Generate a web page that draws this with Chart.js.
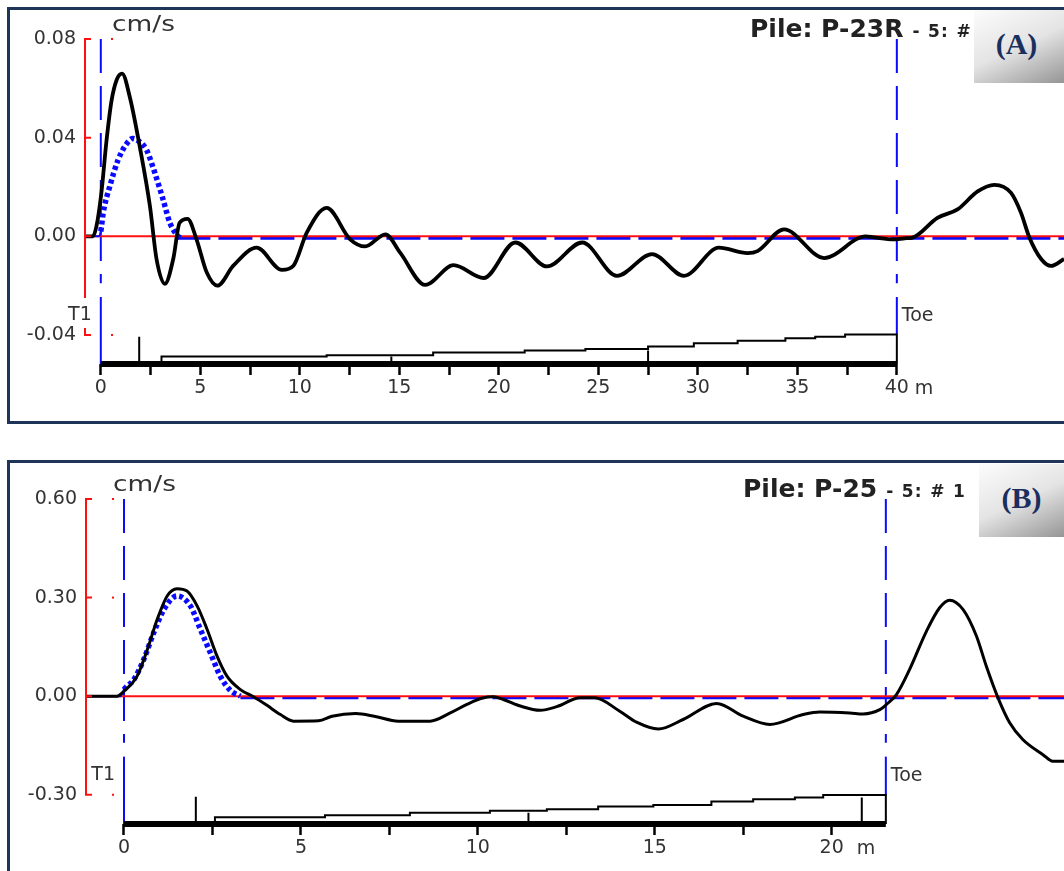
<!DOCTYPE html>
<html><head><meta charset="utf-8">
<script src="https://cdn.jsdelivr.net/npm/chart.js@4.4.1/dist/chart.umd.min.js"></script>
<style>
html,body{margin:0;padding:0;background:#fff;overflow:hidden;width:1064px;height:871px;position:relative;}
.panel{position:absolute;left:7px;border:3px solid #1e3559;box-sizing:border-box;}
#pa{top:7px;width:1080px;height:417px;}
#pb{top:460px;width:1080px;height:430px;}
canvas{position:absolute;left:0;}
#ca{top:0;}
#cb{top:440px;}
.tag{position:absolute;background:linear-gradient(155deg,#fcfcfc 0%,#e4e4e4 50%,#959595 100%);font-family:"Liberation Serif",serif;font-weight:bold;font-size:30px;color:#1a2f5e;display:flex;align-items:center;justify-content:center;box-sizing:border-box;}
#ta{left:974px;top:10px;width:90px;height:73px;padding:0 5px 6px 0;}
#tb{left:979px;top:464px;width:85px;height:73px;padding:0 0 5px 0;}
</style></head>
<body>
<div class="panel" id="pa"></div>
<div class="panel" id="pb"></div>
<canvas id="ca" width="1064" height="430"></canvas>
<canvas id="cb" width="1064" height="431"></canvas>
<div class="tag" id="ta">(A)</div>
<div class="tag" id="tb">(B)</div>
<script>
// ================= Panel A : Pile P-23R =================
const aTitle = "Pile: P-23R";
const aSuffix = "- 5: # 1";
const aPileLength = 40;
const aYTicks = [0.08, 0.04, 0, -0.04];
const aXTicks = [0, 2.5, 5, 7.5, 10, 12.5, 15, 17.5, 20, 22.5, 25, 27.5, 30, 32.5, 35, 37.5, 40];
// measured velocity (black)
const aMeasX = [-0.84, -0.4, -0.22, 0.03, 0.29, 0.54, 0.8, 1.07, 1.46, 1.96, 2.47, 2.8, 3.22, 3.64, 3.96, 4.36, 4.81, 5.32, 5.86, 6.66, 7.83, 9.1, 9.68, 10.35, 11.35, 12.53, 13.28, 14.3, 15.04, 16.3, 17.73, 19.24, 20.83, 22.42, 24.19, 25.94, 27.7, 29.3, 31.06, 32.5, 33.0, 34.33, 36.35, 38.44, 38.85, 39.85, 40.4, 40.79, 42.04, 43.05, 44.06, 44.9, 45.74, 46.24, 46.66, 47.25, 47.75, 48.4];
const aMeasV = [0, 0, 0.004, 0.0177, 0.039, 0.055, 0.0635, 0.066, 0.0564, 0.0363, 0.0122, -0.0092, -0.0193, -0.0092, 0.0055, 0.0071, -0.0012, -0.0146, -0.020, -0.0119, -0.0046, -0.0136, -0.0119, 0.0015, 0.0115, -0.0012, -0.0041, 0.0008, -0.0066, -0.0197, -0.0117, -0.0169, -0.0025, -0.0122, -0.0025, -0.016, -0.0072, -0.016, -0.0046, -0.0068, -0.006, 0.0028, -0.0088, 0, -0.0004, -0.0012, -0.0008, -0.0005, 0.0075, 0.0109, 0.0182, 0.0209, 0.0176, 0.0095, -0.0005, -0.0092, -0.012, -0.0092];
// input pulse (blue dotted)
const aPulseX = [-0.84, -0.1, 0.0, 0.12, 0.45, 0.87, 1.25, 1.62, 2.0, 2.3, 2.72, 3.13, 3.47, 3.8, 4.0];
const aPulseV = [0, 0, 0.002, 0.0095, 0.0202, 0.031, 0.037, 0.0397, 0.038, 0.035, 0.0256, 0.0149, 0.0055, 0.0008, -0.0008];
// computed baseline (blue dashed)
const aBaseX = [3.8, 48.4];
const aBaseV = [-0.0008, -0.0008];
// pile profile (relative units)
const aProfX = [3.05, 3.05, 11.35, 16.7, 21.3, 24.35, 27.5, 29.8, 32.0, 34.4, 35.9, 37.4, 38.8, 40, 40];
const aProfH = [0, 0.13, 0.25, 0.30, 0.39, 0.46, 0.51, 0.59, 0.70, 0.79, 0.87, 0.92, 1.0, 1.0, 0];
const aJointX = [1.93, 14.6, 27.5];
const aJointH = [0.92, 0.25, 0.46];

// ================= Panel B : Pile P-25 =================
const bTitle = "Pile: P-25";
const bSuffix = "- 5: # 1";
const bPileLength = 21.53;
const bYTicks = [0.6, 0.3, 0, -0.3];
const bXTicks = [0, 2.5, 5, 7.5, 10, 12.5, 15, 17.5, 20];
const bMeasX = [-1.1, -0.2, 0.0, 0.37, 0.66, 0.94, 1.22, 1.5, 1.78, 2.07, 2.35, 2.63, 2.91, 3.29, 3.66, 4.04, 4.42, 4.79, 5.5, 5.88, 6.55, 7.1, 7.75, 8.65, 9.22, 9.69, 10.16, 10.44, 10.72, 11.2, 11.76, 12.23, 12.89, 13.3, 14.0, 14.5, 15.1, 15.8, 16.75, 17.5, 18.25, 19.19, 19.66, 20.51, 20.89, 21.36, 21.55, 21.83, 22.2, 22.68, 23.05, 23.33, 23.71, 24.09, 24.37, 24.7, 25.03, 25.4, 25.97, 26.25, 26.57];
const bMeasV = [0, 0, 0.015, 0.061, 0.142, 0.234, 0.305, 0.327, 0.32, 0.274, 0.203, 0.122, 0.061, 0.020, -0.002, -0.028, -0.056, -0.076, -0.075, -0.061, -0.053, -0.062, -0.076, -0.076, -0.051, -0.025, -0.005, -0.002, -0.010, -0.030, -0.043, -0.032, -0.005, -0.005, -0.045, -0.08, -0.100, -0.071, -0.022, -0.061, -0.086, -0.056, -0.048, -0.051, -0.054, -0.041, -0.025, 0.005, 0.081, 0.198, 0.269, 0.292, 0.264, 0.183, 0.091, -0.005, -0.081, -0.132, -0.178, -0.198, -0.198];
const bPulseX = [-1.1, -0.1, 0.0, 0.28, 0.56, 0.84, 1.13, 1.5, 1.88, 2.16, 2.44, 2.72, 3.0, 3.29];
const bPulseV = [0, 0, 0.02, 0.051, 0.112, 0.193, 0.264, 0.305, 0.274, 0.203, 0.132, 0.061, 0.018, 0.0];
const bBaseX = [3.29, 26.57];
const bBaseV = [-0.005, -0.005];
const bProfX = [2.57, 2.57, 5.68, 8.08, 10.34, 11.95, 13.4, 14.96, 16.6, 17.78, 18.96, 19.76, 20.89, 21.53, 21.53];
const bProfH = [0, 0.13, 0.23, 0.30, 0.38, 0.45, 0.50, 0.59, 0.64, 0.76, 0.84, 0.90, 0.98, 0.98, 0];
const bJointX = [2.03, 11.43, 20.85];
const bJointH = [0.92, 0.38, 0.90];

// ================= drawing =================
const BLUE = '#0a0aff', RED = '#ff1010', TXT = '#333333';
const FONT = "'DejaVu Sans'";
const pts = (xs, ys) => xs.map((x, i) => ({x: x, y: ys[i]}));

function makeChart(id, c) {
  const joints = [];
  c.jointX.forEach((x, i) => { joints.push({x: x, y: 0}, {x: x, y: c.jointH[i]}, {x: x, y: null}); });
  const decor = {
    id: 'decor',
    beforeDatasetsDraw(chart) {
      const {ctx, chartArea: ca, scales} = chart;
      const x = scales.x, y = scales.y, y2 = scales.y2;
      const topY = y.getPixelForValue(c.yTicks[0]);
      const dashEndY = y.getPixelForValue(c.dashEnd);
      const solidY = y.getPixelForValue(c.solidStart);
      const toeTop = y2.getPixelForValue(Math.max.apply(null, c.profH));
      ctx.save();
      ctx.strokeStyle = BLUE; ctx.lineWidth = 2;
      [[0, ca.bottom], [c.L, toeTop]].forEach(([v, endY]) => {
        const px = x.getPixelForValue(v);
        ctx.setLineDash([34, 13]);
        ctx.beginPath(); ctx.moveTo(px, topY); ctx.lineTo(px, dashEndY); ctx.stroke();
        ctx.setLineDash([]);
        ctx.beginPath(); ctx.moveTo(px, solidY); ctx.lineTo(px, endY); ctx.stroke();
      });
      ctx.restore();
    },
    afterDraw(chart) {
      const {ctx, chartArea: ca, scales} = chart;
      const x = scales.x, y = scales.y;
      ctx.save();
      // red axis
      ctx.strokeStyle = RED; ctx.fillStyle = RED; ctx.lineWidth = 2; ctx.setLineDash([]);
      const ax = ca.left + 1;
      const yT = y.getPixelForValue(c.yTicks[0]);
      const yB = y.getPixelForValue(c.yTicks[c.yTicks.length - 1]);
      ctx.beginPath();
      if (c.gap) {
        ctx.moveTo(ax, yT); ctx.lineTo(ax, y.getPixelForValue(c.gap[0]));
        ctx.moveTo(ax, y.getPixelForValue(c.gap[1])); ctx.lineTo(ax, yB);
      } else { ctx.moveTo(ax, yT); ctx.lineTo(ax, yB); }
      c.yTicks.forEach(v => { const py = y.getPixelForValue(v); ctx.moveTo(ax - 1, py); ctx.lineTo(ax + 6, py); });
      ctx.stroke();
      c.dots.forEach(v => { const py = y.getPixelForValue(v); ctx.fillRect(ax + 26, py - 1, 2, 2); });
      // texts
      ctx.fillStyle = TXT; ctx.textBaseline = 'alphabetic';
      ctx.save();
      ctx.translate(ca.left + 28, ca.top - 8);
      ctx.scale(1.2, 1);
      ctx.font = "22px " + FONT; ctx.textAlign = 'left';
      ctx.fillText('cm/s', 0, 0);
      ctx.restore();
      ctx.fillStyle = '#222';
      ctx.font = "bold 25px " + FONT; ctx.textAlign = 'left';
      ctx.fillText(c.title, c.titleX, ca.top - 2);
      const w = ctx.measureText(c.title).width;
      ctx.font = "bold 17px " + FONT;
      try { ctx.letterSpacing = '1.3px'; } catch (e) {}
      ctx.fillText(c.suffix, c.titleX + w + 9, ca.top - 2);
      try { ctx.letterSpacing = '0px'; } catch (e) {}
      ctx.fillStyle = TXT;
      ctx.font = "19px " + FONT;
      ctx.textAlign = 'right';
      ctx.fillText('T1', x.getPixelForValue(0) - 9, ca.bottom - 44);
      ctx.textAlign = 'left';
      ctx.fillText('Toe', x.getPixelForValue(c.L) + 5, ca.bottom - 43);
      ctx.font = "19px " + FONT;
      ctx.fillText('m', x.getPixelForValue(c.xTicks[c.xTicks.length - 1]) + c.mOff, ca.bottom + 30);
      ctx.restore();
    }
  };
  return new Chart(document.getElementById(id), {
    type: 'line',
    data: {
      datasets: [
        {data: pts(c.measX, c.measV), borderColor: '#000', borderWidth: c.measW, cubicInterpolationMode: 'monotone', pointRadius: 0},
        {data: pts(c.pulseX, c.pulseV), borderColor: BLUE, borderWidth: 5.5, borderDash: [4, 3], cubicInterpolationMode: 'monotone', pointRadius: 0,
          segment: {borderDash: s => s.p0.parsed.x < -0.05 ? [] : [4, 3], borderWidth: s => s.p0.parsed.x < -0.05 ? 2 : 5.5}},
        {data: [{x: c.xMin, y: 0}, {x: c.xMax, y: 0}], borderColor: RED, borderWidth: 2, pointRadius: 0},
        {data: pts(c.baseX, c.baseV), borderColor: BLUE, borderWidth: 3, borderDash: [34, 8], pointRadius: 0},
        {data: pts(c.profX, c.profH), yAxisID: 'y2', borderColor: '#000', borderWidth: 2, stepped: 'after', pointRadius: 0, clip: false},
        {data: joints, yAxisID: 'y2', borderColor: '#000', borderWidth: 2, pointRadius: 0, spanGaps: false, clip: false},
        {data: [{x: 0, y: 0}, {x: c.L, y: 0}], yAxisID: 'y2', borderColor: '#000', borderWidth: 6, pointRadius: 0, clip: false}
      ]
    },
    options: {
      responsive: false, animation: false, events: [],
      layout: {padding: {top: c.padTop, left: 0, right: 0, bottom: 0}},
      plugins: {legend: {display: false}, tooltip: {enabled: false}},
      scales: {
        x: {
          type: 'linear', min: c.xMin, max: c.xMax,
          afterBuildTicks: s => { s.ticks = c.xTicks.map(v => ({value: v})); },
          afterFit: s => { s.height = c.canvasH - c.chartBottom; },
          border: {display: false},
          grid: {drawOnChartArea: false, drawTicks: true, tickLength: 11, tickWidth: 2.5, tickColor: '#000', color: '#000'},
          ticks: {autoSkip: false, maxRotation: 0, padding: 2, color: TXT, font: {family: FONT, size: 19},
            callback: v => (Math.abs(v % 5) < 1e-9 ? String(v) : '')}
        },
        y: {
          min: c.yMin, max: c.yMax,
          afterBuildTicks: s => { s.ticks = c.yTicks.map(v => ({value: v})); },
          afterFit: s => { s.width = c.axisLeft; },
          border: {display: false},
          grid: {display: false, drawTicks: false},
          ticks: {padding: 8, color: TXT, font: {family: FONT, size: 19}, callback: v => Number(v).toFixed(2)}
        },
        y2: {display: false, position: 'right', min: 0, max: 11}
      }
    },
    plugins: [decor]
  });
}

makeChart('ca', {
  title: aTitle, suffix: aSuffix, titleX: 750, L: aPileLength,
  yTicks: aYTicks, xTicks: aXTicks, measX: aMeasX, measV: aMeasV, pulseX: aPulseX, pulseV: aPulseV,
  baseX: aBaseX, baseV: aBaseV, profX: aProfX, profH: aProfH, jointX: aJointX, jointH: aJointH,
  xMin: -0.844, xMax: 48.40, yMin: -0.05176, yMax: 0.08, axisLeft: 84, padTop: 39, canvasH: 430, chartBottom: 364,
  dashEnd: -0.019, solidStart: -0.0246, gap: [-0.025, -0.0372], dots: [0.08, -0.04], measW: 3.8, mOff: 18
});
makeChart('cb', {
  title: bTitle, suffix: bSuffix, titleX: 743, L: bPileLength,
  yTicks: bYTicks, xTicks: bXTicks, measX: bMeasX, measV: bMeasV, pulseX: bPulseX, pulseV: bPulseV,
  baseX: bBaseX, baseV: bBaseV, profX: bProfX, profH: bProfH, jointX: bJointX, jointH: bJointH,
  xMin: -1.102, xMax: 26.565, yMin: -0.389, yMax: 0.6, axisLeft: 85, padTop: 59, canvasH: 431, chartBottom: 384,
  dashEnd: -0.142, solidStart: -0.184, gap: null, dots: [0.6, 0.3, -0.3], measW: 3, mOff: 25
});
</script>
</body></html>
